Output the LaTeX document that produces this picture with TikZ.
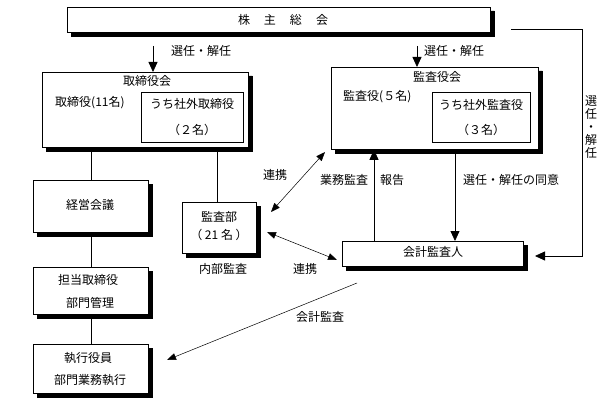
\documentclass[tikz,border=0pt]{standalone}
\usepackage{fontspec}
\setmainfont{Noto Sans CJK JP}
\usetikzlibrary{arrows.meta}
\begin{document}
\begin{tikzpicture}[x=1pt,y=1pt,
 box/.style={draw, line width=0.8pt, fill=white, inner sep=0pt},
 shadowpoly/.style={fill=black, draw=black, line width=0.4pt},
 ibox/.style={draw, line width=0.8pt, inner sep=0pt},
 txt/.style={inner sep=0pt, font=\fontsize{12}{13}\selectfont},
 arr/.style={line width=0.8pt, -{Triangle[width=9pt,length=10pt]}},
 darr/.style={line width=0.5pt, {Triangle[width=7pt,length=9pt]}-{Triangle[width=7pt,length=9pt]}},
 sarr/.style={line width=0.5pt, -{Triangle[width=7pt,length=9pt]}},
 ln/.style={line width=0.8pt}]
\useasboundingbox (0,-404) rectangle (611,0);

% boxes given as (x1,y1,x2,y2) in pixel terms, shadow as an L-shaped strip drawn on top
\newcommand{\shbox}[5]{%
  \node[box, anchor=north west, minimum width=#4-#2, minimum height=#5-#3] (#1) at (#2,-#3) {};
  \path[shadowpoly] (#4+0.4,-#3-4) -- (#4+4.4,-#3-4) -- (#4+4.4,-#5-4.4) -- (#2+4,-#5-4.4) -- (#2+4,-#5-0.4) -- (#4+0.4,-#5-0.4) -- cycle;}
\shbox{soukai}{67}{7}{490}{32}
\shbox{tori}{42}{72}{248}{147}
\shbox{kyk}{331}{67}{538}{149}
\shbox{kansabu}{182}{202}{256}{253}
\shbox{kaikei}{342}{241}{523}{266}
\shbox{keiei}{33}{180}{148}{232}
\shbox{tanto}{33}{267}{148}{314}
\shbox{shikko}{33}{344}{148}{393}
\node[ibox, anchor=north west, minimum width=102pt, minimum height=50pt] (torigai) at (141,-92) {};
\node[ibox, anchor=north west, minimum width=98pt, minimum height=50pt] (kyGai) at (432,-92) {};

% texts
\node[txt] (tSoukai) at (283,-19.5) {株\hspace{14pt}主\hspace{14pt}総\hspace{14pt}会};
\node[txt, anchor=west] (tSen1) at (171,-51) {選任・解任};
\node[txt, anchor=west] (tSen2) at (424,-51) {選任・解任};
\node[txt] (tTori) at (147,-81) {取締役会};
\node[txt, anchor=west] (tTori11) at (55,-103) {取締役(11名)};
\node[txt] (tToriGai) at (192,-104) {うち社外取締役};
\node[txt] (tTori2) at (192,-130) {（２名）};
\node[txt] (tKyk) at (437,-77) {監査役会};
\node[txt, anchor=west] (tKy5) at (343,-97) {監査役(５名)};
\node[txt] (tKyGai) at (481,-105) {うち社外監査役};
\node[txt] (tKy3) at (481,-130) {（３名）};
\node[txt] (tGyomu) at (344,-180) {業務監査};
\node[txt, anchor=west] (tHoukoku) at (380,-180) {報告};
\node[txt, anchor=west] (tDoui) at (463,-180) {選任・解任の同意};
\node[txt] (tRenkei1) at (275,-175) {連携};
\node[txt] (tKansabu) at (219,-217) {監査部};
\node[txt] (tKansabu21) at (219,-235) {（ 21 名 ）};
\node[txt] (tNaibu) at (223,-269) {内部監査};
\node[txt] (tRenkei2) at (305,-269) {連携};
\node[txt] (tKaikei) at (433,-252) {会計監査人};
\node[txt] (tKeiei) at (90,-205) {経営会議};
\node[txt] (tTanto) at (88,-280) {担当取締役};
\node[txt] (tBumon) at (90,-303) {部門管理};
\node[txt] (tShikko) at (88,-358) {執行役員};
\node[txt] (tBumonGyomu) at (90,-380) {部門業務執行};
\node[txt] (tKaikeiKansa) at (320,-317) {会計監査};
\node[txt, align=center] (tSenV) at (591,-127) {選\\任\\・\\解\\任};

% connectors
\coordinate (a1s) at (153,-46);
\draw[arr] (a1s) -- (a1s |- tori.north);
\coordinate (a2s) at (417,-46);
\draw[arr] (a2s) -- (a2s |- kyk.north);

\draw[ln] (tori.south -| keiei.north) -- (keiei.north);
\draw[ln] (keiei.south) -- (tanto.north);
\draw[ln] (tanto.south) -- (shikko.north);
\coordinate (kb) at (217,0);
\draw[ln] (kb |- tori.south) -- (kb |- kansabu.north);

\coordinate (hk) at (374,0);
\draw[arr] (hk |- kaikei.north) -- (hk |- kyk.south);
\coordinate (dk) at (455,0);
\draw[arr] (dk |- kyk.south) -- (dk |- kaikei.north);

\coordinate (r1) at (511,-29);
\coordinate (r2) at (582,-256);
\coordinate (r3) at (535,-256);
\draw[arr] (r1) -| (r2) -- (r3);

\coordinate (u1) at (325,-152);
\coordinate (u2) at (271,-212);
\draw[darr] (u1) -- (u2);
\coordinate (l1) at (267,-232);
\coordinate (l2) at (337,-260);
\draw[darr] (l1) -- (l2);
\coordinate (k1) at (357,-283);
\coordinate (k2) at (167,-360);
\draw[sarr] (k1) -- (k2);
\end{tikzpicture}
\end{document}
